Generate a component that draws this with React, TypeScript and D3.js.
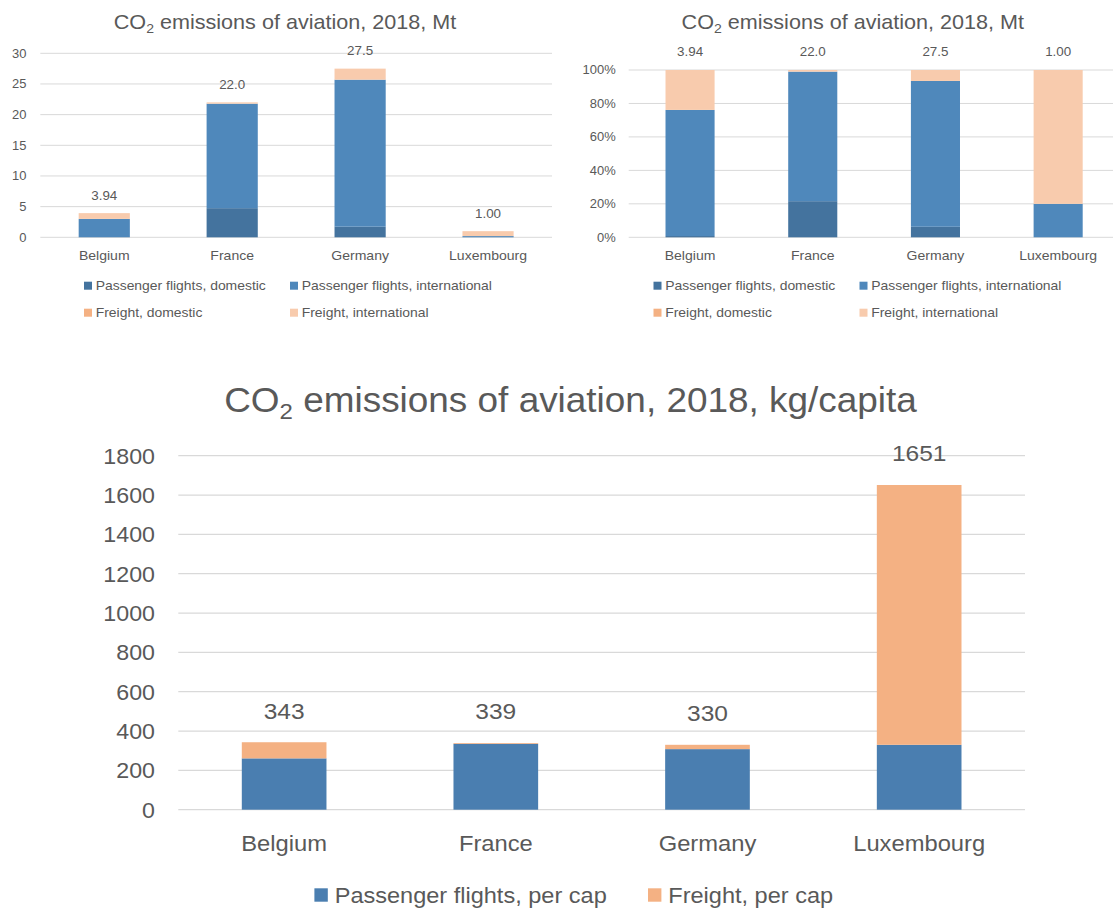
import React from "react";
import * as d3 from "d3";

const countries = ["Belgium", "France", "Germany", "Luxembourg"];
const paxDomestic = [0.03, 4.75, 1.73, 0.0];
const paxInternational = [2.97, 17.03, 23.97, 0.2];
const freightDomestic = [0.0, 0.02, 0.0, 0.0];
const freightInternational = [0.94, 0.2, 1.8, 0.8];

const perCapPassenger = [261, 335, 308, 330];
const perCapFreight = [82, 4, 22, 1321];

const mtTicks = [0, 5, 10, 15, 20, 25, 30];
const pctTicks = [0, 0.2, 0.4, 0.6, 0.8, 1.0];
const kgTicks = [0, 200, 400, 600, 800, 1000, 1200, 1400, 1600, 1800];

const keys4 = ["paxDom", "paxInt", "frDom", "frInt"];
const names4 = [
  "Passenger flights, domestic",
  "Passenger flights, international",
  "Freight, domestic",
  "Freight, international",
];
const colors4 = ["#44739E", "#4F88BB", "#F4B183", "#F8CBAD"];
const keys2 = ["pax", "fr"];
const names2 = ["Passenger flights, per cap", "Freight, per cap"];
const colors2 = ["#4A7EB0", "#F4B183"];

const K = 1.08;
const FONT = "'Liberation Sans', Arial, Helvetica, sans-serif";
const TXT = "#595959";
const GRID = "#D9D9D9";

function Txt({ x, y, size, anchor = "middle", children, fill = TXT }: any) {
  return (
    <text
      transform={`translate(${x},${y}) scale(${K},1)`}
      fontSize={size}
      textAnchor={anchor}
      fill={fill}
      fontFamily={FONT}
    >
      {children}
    </text>
  );
}

function Title({ x, y, size, rest }: any) {
  return (
    <Txt x={x} y={y} size={size}>
      CO
      <tspan fontSize={size * 0.65} dy={size * 0.22}>
        2
      </tspan>
      <tspan dy={-size * 0.22}>{rest}</tspan>
    </Txt>
  );
}

const rows4 = countries.map((c, i) => ({
  country: c,
  paxDom: paxDomestic[i],
  paxInt: paxInternational[i],
  frDom: freightDomestic[i],
  frInt: freightInternational[i],
}));
const totals4 = rows4.map((r) => r.paxDom + r.paxInt + r.frDom + r.frInt);
const fmt3 = d3.format(".3r");

const rows2 = countries.map((c, i) => ({
  country: c,
  pax: perCapPassenger[i],
  fr: perCapFreight[i],
}));
const totals2 = rows2.map((r) => r.pax + r.fr);

function TopChart({ percent, x0, x1, titleX, tickX, legendX }: any) {
  const x = d3
    .scaleBand()
    .domain(countries)
    .range([x0, x1])
    .paddingInner(0.6)
    .paddingOuter(0.3);
  const y = percent
    ? d3.scaleLinear().domain([0, 1]).range([237.3, 70])
    : d3.scaleLinear().domain([0, 30]).range([237.3, 53.3]);
  const stack = d3.stack<any>().keys(keys4);
  if (percent) stack.offset(d3.stackOffsetExpand);
  const series = stack(rows4);
  const ticks = percent ? pctTicks : mtTicks;
  const tfmt = percent ? d3.format(".0%") : d3.format("d");
  return (
    <g>
      <Title x={titleX} y={29} size={20} rest=" emissions of aviation, 2018, Mt" />
      {ticks.map((t) => (
        <g key={t}>
          <line x1={x0} x2={x1} y1={y(t)} y2={y(t)} stroke={GRID} strokeWidth={1} />
          <Txt x={tickX} y={y(t) + 4.3} size={12} anchor="end">
            {tfmt(t)}
          </Txt>
        </g>
      ))}
      {series.map((s, si) =>
        s.map((d: any, i: number) => (
          <rect
            key={si + "-" + i}
            x={x(countries[i])}
            width={x.bandwidth()}
            y={y(d[1])}
            height={Math.max(0, y(d[0]) - y(d[1]))}
            fill={colors4[si]}
          />
        ))
      )}
      {countries.map((c, i) => (
        <Txt key={c} x={x(c)! + x.bandwidth() / 2} y={260} size={13}>
          {c}
        </Txt>
      ))}
      {countries.map((c, i) => (
        <Txt
          key={"v" + c}
          x={x(c)! + x.bandwidth() / 2}
          y={percent ? 56 : y(totals4[i]) - 13.3}
          size={12.4}
        >
          {fmt3(totals4[i])}
        </Txt>
      ))}
      {names4.map((n, i) => {
        const lx = legendX + (i % 2) * 206;
        const ly = i < 2 ? 285.7 : 312.7;
        return (
          <g key={n}>
            <rect x={lx} y={ly - 4} width={8} height={8} fill={colors4[i]} />
            <Txt x={lx + 11.7} y={ly + 4.5} size={12.9} anchor="start">
              {n}
            </Txt>
          </g>
        );
      })}
    </g>
  );
}

function BottomChart() {
  const x0 = 178.3;
  const x1 = 1025;
  const x = d3
    .scaleBand()
    .domain(countries)
    .range([x0, x1])
    .paddingInner(0.6)
    .paddingOuter(0.3);
  const y = d3.scaleLinear().domain([0, 1800]).range([809.7, 455.7]);
  const series = d3.stack<any>().keys(keys2)(rows2);
  return (
    <g>
      <Title x={570.5} y={411.5} size={34.2} rest=" emissions of aviation, 2018, kg/capita" />
      {kgTicks.map((t) => (
        <g key={t}>
          <line x1={x0} x2={x1} y1={y(t)} y2={y(t)} stroke={GRID} strokeWidth={1.3} />
          <Txt x={155} y={y(t) + 7.8} size={21.5} anchor="end">
            {t}
          </Txt>
        </g>
      ))}
      {series.map((s, si) =>
        s.map((d: any, i: number) => (
          <rect
            key={si + "-" + i}
            x={x(countries[i])}
            width={x.bandwidth()}
            y={y(d[1])}
            height={Math.max(0, y(d[0]) - y(d[1]))}
            fill={colors2[si]}
          />
        ))
      )}
      {countries.map((c) => (
        <Txt key={c} x={x(c)! + x.bandwidth() / 2} y={851} size={22}>
          {c}
        </Txt>
      ))}
      {countries.map((c, i) => (
        <Txt key={"v" + c} x={x(c)! + x.bandwidth() / 2} y={y(totals2[i]) - 23.6} size={22.7}>
          {d3.format("d")(totals2[i])}
        </Txt>
      ))}
      {names2.map((n, i) => {
        const lx = i === 0 ? 314.4 : 648;
        const ly = 895;
        return (
          <g key={n}>
            <rect x={lx} y={ly - 6.7} width={13.4} height={13.4} fill={colors2[i]} />
            <Txt x={lx + 20.3} y={ly + 8} size={21.8} anchor="start">
              {n}
            </Txt>
          </g>
        );
      })}
    </g>
  );
}

export default function App() {
  return (
    <svg
      width={1113}
      height={908}
      style={{ position: "absolute", left: 0, top: 0, background: "#fff" }}
    >
      <rect x={0} y={0} width={1113} height={908} fill="#fff" />
      <TopChart percent={false} x0={40.3} x1={552} titleX={285} tickX={26.5} legendX={84} />
      <TopChart percent={true} x0={628.7} x1={1119.5} titleX={852.8} tickX={615.7} legendX={653.5} />
      <BottomChart />
    </svg>
  );
}
